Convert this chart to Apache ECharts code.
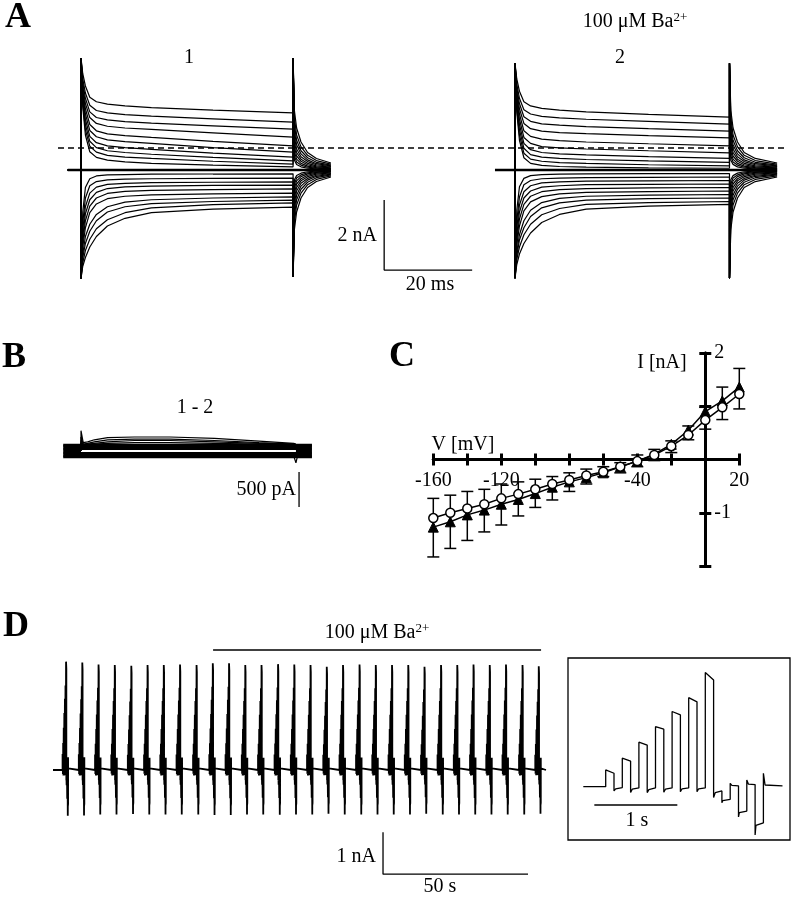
<!DOCTYPE html>
<html>
<head>
<meta charset="utf-8">
<script src="https://cdn.jsdelivr.net/npm/echarts@6/dist/echarts.min.js"></script>
<style>
  html, body { margin: 0; background: #fff; }
  #chart { width: 792px; height: 899px; }
</style>
</head>
<body>
<div id="chart"></div>
<script>
// ---- A: current families (ms, nA) ----
const stepTimes = [0, 0.4, 1, 2, 3.5, 6, 10, 16, 30, 48.2];
const ctlTailTimes = [48.5, 49, 50, 51.5, 53.5, 56.8];
const baTailTimes = [48.5, 49, 50, 51.5, 54, 58.9];

const ctlUpper = [
  [3.2, 2.75, 2.4, 2.08, 1.95, 1.88, 1.83, 1.78, 1.71, 1.63],
  [3.2, 2.6, 2.2, 1.85, 1.7, 1.63, 1.58, 1.54, 1.46, 1.37],
  [3.2, 2.5, 2.05, 1.66, 1.5, 1.43, 1.38, 1.34, 1.26, 1.17],
  [3.2, 2.4, 1.9, 1.5, 1.33, 1.25, 1.2, 1.16, 1.06, 0.94],
  [3.2, 2.3, 1.75, 1.3, 1.12, 1.03, 0.98, 0.93, 0.82, 0.69],
  [3.2, 2.2, 1.6, 1.13, 0.95, 0.86, 0.81, 0.76, 0.64, 0.51],
  [3.2, 2.1, 1.45, 0.96, 0.78, 0.69, 0.64, 0.59, 0.48, 0.37],
  [3.2, 2.0, 1.3, 0.82, 0.64, 0.55, 0.5, 0.45, 0.36, 0.26],
  [3.2, 1.9, 1.15, 0.68, 0.51, 0.42, 0.37, 0.33, 0.25, 0.17],
  [3.2, 1.8, 1.0, 0.52, 0.36, 0.28, 0.23, 0.19, 0.14, 0.09]
];
const ctlLower = [
  [-3.1, -1.2, -0.5, -0.25, -0.17, -0.14, -0.13, -0.12, -0.115, -0.11],
  [-3.1, -1.5, -0.8, -0.45, -0.33, -0.28, -0.26, -0.25, -0.24, -0.23],
  [-3.1, -1.7, -1.05, -0.66, -0.49, -0.41, -0.38, -0.36, -0.35, -0.34],
  [-3.1, -1.9, -1.25, -0.85, -0.64, -0.53, -0.48, -0.46, -0.44, -0.43],
  [-3.1, -2.05, -1.45, -1.03, -0.8, -0.67, -0.61, -0.58, -0.56, -0.54],
  [-3.1, -2.2, -1.65, -1.22, -0.97, -0.82, -0.75, -0.71, -0.68, -0.66],
  [-3.1, -2.4, -1.9, -1.55, -1.27, -1.05, -0.92, -0.85, -0.8, -0.77],
  [-3.1, -2.5, -2.1, -1.75, -1.45, -1.2, -1.05, -0.96, -0.9, -0.86],
  [-3.1, -2.65, -2.3, -1.98, -1.68, -1.42, -1.22, -1.08, -0.99, -0.94],
  [-3.1, -2.75, -2.5, -2.2, -1.9, -1.6, -1.38, -1.22, -1.12, -1.06]
];
const baUpper = [
  [3.05, 2.6, 2.25, 1.95, 1.83, 1.76, 1.71, 1.66, 1.59, 1.51],
  [3.05, 2.45, 2.05, 1.72, 1.6, 1.53, 1.49, 1.45, 1.39, 1.31],
  [3.05, 2.35, 1.9, 1.52, 1.39, 1.32, 1.28, 1.24, 1.18, 1.11],
  [3.05, 2.25, 1.75, 1.33, 1.18, 1.11, 1.07, 1.04, 0.98, 0.92],
  [3.05, 2.15, 1.6, 1.12, 0.96, 0.88, 0.84, 0.8, 0.75, 0.69],
  [3.05, 2.05, 1.45, 0.93, 0.76, 0.67, 0.63, 0.6, 0.55, 0.49],
  [3.05, 1.95, 1.3, 0.76, 0.58, 0.5, 0.46, 0.43, 0.38, 0.33],
  [3.05, 1.85, 1.15, 0.62, 0.44, 0.37, 0.33, 0.3, 0.26, 0.22],
  [3.05, 1.75, 1.0, 0.48, 0.31, 0.25, 0.21, 0.19, 0.15, 0.12],
  [3.05, 1.65, 0.85, 0.35, 0.19, 0.13, 0.1, 0.08, 0.06, 0.05]
];
const baLower = [
  [-3.09, -1.15, -0.48, -0.24, -0.16, -0.13, -0.12, -0.11, -0.105, -0.1],
  [-3.09, -1.45, -0.77, -0.42, -0.3, -0.25, -0.23, -0.22, -0.21, -0.2],
  [-3.09, -1.65, -1.0, -0.62, -0.45, -0.37, -0.34, -0.32, -0.31, -0.3],
  [-3.09, -1.85, -1.2, -0.8, -0.6, -0.49, -0.45, -0.42, -0.41, -0.4],
  [-3.09, -2.0, -1.4, -0.98, -0.75, -0.62, -0.56, -0.53, -0.51, -0.5],
  [-3.09, -2.15, -1.6, -1.17, -0.91, -0.76, -0.68, -0.64, -0.62, -0.6],
  [-3.09, -2.35, -1.85, -1.45, -1.15, -0.93, -0.81, -0.75, -0.72, -0.7],
  [-3.09, -2.45, -2.0, -1.65, -1.33, -1.08, -0.94, -0.86, -0.82, -0.8],
  [-3.09, -2.55, -2.2, -1.85, -1.55, -1.28, -1.1, -0.98, -0.93, -0.9],
  [-3.09, -2.7, -2.4, -2.1, -1.8, -1.5, -1.27, -1.12, -1.03, -0.98]
];
// tail currents after the step
const tailUpper = [
  [1.7, 1.2, 0.8, 0.5, 0.33, 0.2],
  [1.5, 1.0, 0.66, 0.42, 0.27, 0.17],
  [1.3, 0.85, 0.55, 0.35, 0.22, 0.14],
  [1.12, 0.72, 0.46, 0.29, 0.18, 0.12],
  [0.95, 0.6, 0.38, 0.24, 0.15, 0.1],
  [0.8, 0.5, 0.31, 0.19, 0.12, 0.08],
  [0.66, 0.4, 0.25, 0.15, 0.09, 0.06],
  [0.52, 0.31, 0.19, 0.11, 0.07, 0.04],
  [0.4, 0.23, 0.14, 0.08, 0.05, 0.03],
  [0.28, 0.16, 0.09, 0.05, 0.03, 0.02]
];
const tailLower = [
  [-0.28, -0.16, -0.09, -0.05, -0.03, -0.02],
  [-0.4, -0.23, -0.14, -0.08, -0.05, -0.03],
  [-0.52, -0.31, -0.19, -0.11, -0.07, -0.04],
  [-0.66, -0.4, -0.25, -0.15, -0.09, -0.06],
  [-0.8, -0.5, -0.31, -0.19, -0.12, -0.08],
  [-0.95, -0.6, -0.38, -0.24, -0.15, -0.1],
  [-1.12, -0.72, -0.46, -0.29, -0.18, -0.12],
  [-1.3, -0.85, -0.55, -0.35, -0.22, -0.14],
  [-1.5, -1.0, -0.66, -0.42, -0.27, -0.17],
  [-1.7, -1.2, -0.8, -0.5, -0.33, -0.2]
];
const ctlEndSpike = [3.2, -3.06];
const baEndSpike = [3.05, -3.09];
const ctlHoldStart = -3;
const baHoldStart = -4.5;

// ---- B: difference 1 - 2 (ms, nA) ----
const diffTimes = [0, 0.5, 1.5, 3, 6, 12, 20, 30, 40, 47.8, 48.3];
const diffUpper = [
  [0.29, 0.12, 0.13, 0.16, 0.19, 0.2, 0.2, 0.18, 0.14, 0.11, 0.1],
  [0.2, 0.1, 0.11, 0.13, 0.16, 0.17, 0.17, 0.15, 0.12, 0.1, 0.09],
  [0.15, 0.09, 0.1, 0.11, 0.13, 0.15, 0.15, 0.13, 0.11, 0.1, 0.09],
  [0.12, 0.09, 0.09, 0.1, 0.11, 0.12, 0.12, 0.11, 0.1, 0.09, 0.09]
];
const diffBandLevels = [0.09, 0.07, 0.05, 0.03, -0.03, -0.05, -0.07, -0.09];
const diffEndSpike = [[47.9, -0.09], [48.3, -0.17], [48.7, -0.06]];
const diffHoldStart = -4;
const diffHoldEnd = 51.9;

// ---- C: I-V relation (mV, nA) ----
const ivV = [-160, -150, -140, -130, -120, -110, -100, -90, -80, -70, -60, -50, -40, -30, -20, -10, 0, 10, 20];
const ivControl = [-1.27, -1.17, -1.04, -0.95, -0.84, -0.75, -0.64, -0.52, -0.42, -0.34, -0.25, -0.135, -0.03, 0.10, 0.285, 0.55, 0.90, 1.10, 1.36];
const ivBarium = [-1.10, -1.0, -0.92, -0.84, -0.73, -0.65, -0.56, -0.46, -0.385, -0.30, -0.23, -0.135, -0.03, 0.085, 0.25, 0.46, 0.74, 0.98, 1.23];
const errTop = [-0.73, -0.67, -0.60, -0.56, -0.46, -0.42, -0.37, -0.32, -0.25, -0.18, -0.135, -0.06, 0.085, 0.19, 0.35, 0.63, 0.98, 1.36, 1.71];
const errBottom = [-1.83, -1.67, -1.52, -1.36, -1.23, -1.06, -0.90, -0.76, -0.60, -0.46, -0.32, -0.25, -0.135, -0.02, 0.13, 0.37, 0.57, 0.75, 0.95];
const xLabelsShown = [-160, -120, -40, 20];
const yLabelsShown = [2, -1];

// ---- D: stimulus protocol (inset, s, nA) and long recording ----
const insetTrace = [
  [-0.27, 0], [0, 0], [0, 0.40], [0.01, 0.38], [0.1, 0.32], [0.1, -0.1], [0.12, -0.05], [0.2, -0.02],
  [0.2, 0.68], [0.21, 0.66], [0.3, 0.61], [0.3, -0.14], [0.32, -0.06], [0.4, -0.03],
  [0.4, 1.06], [0.41, 1.03], [0.5, 0.99], [0.5, -0.14], [0.52, -0.07], [0.6, -0.03],
  [0.6, 1.43], [0.61, 1.40], [0.7, 1.37], [0.7, -0.13], [0.72, -0.06], [0.8, -0.03],
  [0.8, 1.79], [0.81, 1.76], [0.9, 1.71], [0.9, -0.12], [0.92, -0.05], [1.0, -0.03],
  [1.0, 2.12], [1.01, 2.09], [1.1, 2.02], [1.1, -0.12], [1.12, -0.05], [1.2, -0.03],
  [1.2, 2.72], [1.21, 2.68], [1.3, 2.54], [1.3, -0.26], [1.32, -0.14], [1.4, -0.1],
  [1.4, -0.38], [1.41, -0.33], [1.5, -0.3], [1.5, 0.08], [1.52, 0.03], [1.6, 0.02],
  [1.6, -0.72], [1.61, -0.62], [1.7, -0.58], [1.7, 0.16], [1.72, 0.06], [1.8, 0.05],
  [1.8, -1.15], [1.81, -0.92], [1.9, -0.86], [1.9, 0.32], [1.92, 0.04], [2.13, 0.02]
];
const eventStart = [3.3, 8.9, 14.5, 20.1, 25.8, 31.4, 37.0, 42.6, 48.3, 53.9, 59.5, 65.1, 70.7, 76.4, 82.0,
  87.6, 93.2, 98.8, 104.5, 110.1, 115.7, 121.3, 126.9, 132.6, 138.2, 143.8, 149.4, 155.0, 160.7, 166.3];
const eventPeak = [2.58, 2.56, 2.51, 2.50, 2.48, 2.50, 2.50, 2.51, 2.50, 2.54, 2.54, 2.50, 2.50, 2.52, 2.51,
  2.50, 2.46, 2.50, 2.51, 2.50, 2.50, 2.50, 2.46, 2.50, 2.50, 2.51, 2.50, 2.51, 2.50, 2.47];
const recordEnd = 170;
const bariumOn = [55.2, 168.3];

// ---- build ----
const SERIF = '"Liberation Serif", "Times New Roman", serif';
const INK = '#000';

function stepTrace(vals, endSpike, tail, tailTimes, holdStart) {
  const d = [[holdStart, 0], [0, 0]];
  stepTimes.forEach((t, i) => d.push([t, vals[i]]));
  d.push([stepTimes[stepTimes.length - 1], endSpike]);
  tailTimes.forEach((t, i) => d.push([t, tail[i]]));
  return d;
}

function line(idx, data, width, extra) {
  return Object.assign({
    type: 'line', xAxisIndex: idx, yAxisIndex: idx, data: data,
    symbol: 'none', silent: true, animation: false,
    lineStyle: { color: INK, width: width }
  }, extra || {});
}

const series = [];

// A1 control, A2 barium
[[0, ctlUpper, ctlLower, ctlEndSpike, ctlTailTimes, ctlHoldStart],
 [1, baUpper, baLower, baEndSpike, baTailTimes, baHoldStart]].forEach(([g, up, lo, sp, tt, hs]) => {
  up.forEach((v, i) => series.push(line(g, stepTrace(v, sp[0], tailUpper[i], tt, hs), 1.2)));
  lo.forEach((v, i) => series.push(line(g, stepTrace(v, sp[1], tailLower[i], tt, hs), 1.2)));
  series.push(line(g, [[hs, 0], [tt[tt.length - 1], 0]], 2.6));
});
// A scale bar: 2 nA, 20 ms
series.push(line(0, [[68.9, -0.86], [68.9, -2.86], [88.9, -2.86]], 1.3));

// B
diffBandLevels.forEach(l => series.push(line(2, [[diffHoldStart, l], [diffHoldEnd, l]], 2)));
series.push(line(2, [[diffHoldStart, 0], [0, 0]], 3));
series.push(line(2, [[48.3, 0], [diffHoldEnd, 0]], 3));
diffUpper.forEach(v => {
  const d = [[0, 0]];
  diffTimes.forEach((t, i) => d.push([t, v[i]]));
  series.push(line(2, d, 1.2));
});
series.push(line(2, diffEndSpike, 1.2));
// B scale bar: 500 pA
series.push(line(2, [[49, -0.3], [49, -0.8]], 1.3));

// C
series.push({
  type: 'custom', xAxisIndex: 3, yAxisIndex: 3, silent: true, animation: false, z: 2,
  data: ivV.map((v, i) => [v, errBottom[i], errTop[i]]),
  encode: { x: 0, y: [1, 2] },
  renderItem: function (params, api) {
    const lo = api.coord([api.value(0), api.value(1)]);
    const hi = api.coord([api.value(0), api.value(2)]);
    const st = { stroke: INK, lineWidth: 1.5 };
    return {
      type: 'group', children: [
        { type: 'line', shape: { x1: lo[0], y1: lo[1], x2: hi[0], y2: hi[1] }, style: st },
        { type: 'line', shape: { x1: lo[0] - 6, y1: lo[1], x2: lo[0] + 6, y2: lo[1] }, style: st },
        { type: 'line', shape: { x1: hi[0] - 6, y1: hi[1], x2: hi[0] + 6, y2: hi[1] }, style: st }
      ]
    };
  }
});
series.push({
  type: 'line', xAxisIndex: 3, yAxisIndex: 3, silent: true, animation: false, z: 3,
  data: ivV.map((v, i) => [v, ivControl[i]]),
  symbol: 'triangle', symbolSize: 10,
  itemStyle: { color: INK, borderColor: INK },
  lineStyle: { color: INK, width: 1.5 }
});
series.push({
  type: 'line', xAxisIndex: 3, yAxisIndex: 3, silent: true, animation: false, z: 4,
  data: ivV.map((v, i) => [v, ivBarium[i]]),
  symbol: 'circle', symbolSize: 9,
  itemStyle: { color: '#fff', borderColor: INK, borderWidth: 1.5 },
  lineStyle: { color: INK, width: 1.5 }
});

// D long recording built from the protocol
const insetPeak = Math.max(...insetTrace.map(p => p[1]));
const dData = [[0, 0]];
eventStart.forEach((s, k) => {
  const g = eventPeak[k] / insetPeak;
  insetTrace.forEach(([t, v]) => { if (t >= 0 && t <= 1.95) dData.push([s + t, v * g]); });
});
dData.push([recordEnd, 0]);
series.push(line(5, dData, 1.8));
series.push(line(5, [[bariumOn[0], 2.86], [bariumOn[1], 2.86]], 1.5));
series.push(line(5, [[113.8, -1.48], [113.8, -2.48], [163.8, -2.48]], 1.3));

// inset
series.push(line(6, insetTrace, 1.3));
series.push(line(6, [[-0.137, -0.436], [0.863, -0.436]], 1.3));

// ---- axes ----
// I-V grid geometry; the axes are shifted onto the zero lines with offsets
const ivGrid = { left: 433.3, top: 353, width: 306, height: 213 };
const ivZeroX = ivGrid.left + ivGrid.width * 160 / 180;
const ivZeroY = ivGrid.top + ivGrid.height / 2;

function hiddenAxis(g, min, max) {
  return { gridIndex: g, type: 'value', min: min, max: max, show: false };
}
const ivAxisLine = { onZero: false, lineStyle: { color: INK, width: 3 } };
const ivTick = { show: true, length: 6, lineStyle: { color: INK, width: 3 } };
const ivLabel = { color: INK, fontSize: 20, fontFamily: SERIF };

const xAxis = [
  hiddenAxis(0, -5, 90),
  hiddenAxis(1, -5, 60),
  hiddenAxis(2, -5, 60),
  { gridIndex: 3, type: 'value', min: -160, max: 20, interval: 20, position: 'bottom',
    offset: -(ivGrid.top + ivGrid.height - ivZeroY),
    axisLine: ivAxisLine, axisTick: ivTick, splitLine: { show: false },
    axisLabel: Object.assign({ margin: 11, showMinLabel: true, showMaxLabel: true,
      formatter: v => xLabelsShown.includes(v) ? String(v) : '' }, ivLabel) },
  { gridIndex: 3, type: 'value', min: -160, max: 20, interval: 20, position: 'top',
    offset: -(ivZeroY - ivGrid.top),
    axisLine: ivAxisLine, axisTick: ivTick, splitLine: { show: false }, axisLabel: { show: false } },
  hiddenAxis(4, 0, recordEnd),
  hiddenAxis(5, -0.35, 2.25)
];
const yAxis = [
  hiddenAxis(0, -3.5, 3.5),
  hiddenAxis(1, -3.5, 3.5),
  hiddenAxis(2, -1, 0.8),
  { gridIndex: 3, type: 'value', min: -2, max: 2, interval: 1, position: 'left',
    offset: -(ivZeroX - ivGrid.left),
    axisLine: ivAxisLine, axisTick: ivTick, splitLine: { show: false }, axisLabel: { show: false } },
  { gridIndex: 3, type: 'value', min: -2, max: 2, interval: 1, position: 'right',
    offset: -(ivGrid.left + ivGrid.width - ivZeroX),
    axisLine: ivAxisLine, axisTick: ivTick, splitLine: { show: false },
    axisLabel: Object.assign({ margin: 9, showMinLabel: true, showMaxLabel: true,
      formatter: v => yLabelsShown.includes(v) ? String(v) : '' }, ivLabel) },
  hiddenAxis(4, -2.6, 3),
  hiddenAxis(5, -1.6, 2.9)
];

const grid = [
  { left: 59, top: 47.5, width: 418, height: 245 },
  { left: 492.75, top: 47.5, width: 289.25, height: 245 },
  { left: 58.75, top: 395, width: 289.25, height: 126 },
  ivGrid,
  { left: 53, top: 644, width: 493, height: 235.2 },
  { left: 576.65, top: 664.9, width: 215.8, height: 189 }
].map(g => Object.assign({ show: false, containLabel: false, outerBoundsMode: 'none' }, g));

// ---- annotations ----
function label(text, x, y, size, bold, align) {
  return {
    type: 'text', x: x, y: y, silent: true,
    style: {
      text: text, fill: INK, font: (bold ? 'bold ' : '') + size + 'px ' + SERIF,
      align: align, verticalAlign: 'middle', textAlign: align, textVerticalAlign: 'middle'
    }
  };
}
function bariumLabel(x, y) {
  return {
    type: 'text', x: x, y: y, silent: true,
    style: {
      text: '{n|100 μM Ba}{s|2+}', fill: INK,
      align: 'center', verticalAlign: 'middle', textAlign: 'center', textVerticalAlign: 'middle',
      rich: {
        n: { fontSize: 20, fontFamily: SERIF, fill: INK, lineHeight: 22 },
        s: { fontSize: 13, fontFamily: SERIF, fill: INK, verticalAlign: 'top', lineHeight: 14 }
      }
    }
  };
}

const graphic = [
  label('A', 18, 18, 36, true, 'center'),
  label('1', 189, 58, 20, false, 'center'),
  label('2', 620, 58, 20, false, 'center'),
  bariumLabel(635, 22),
  label('2 nA', 377, 236, 20, false, 'right'),
  label('20 ms', 430, 285, 20, false, 'center'),
  label('B', 14, 358, 36, true, 'center'),
  label('1 - 2', 195, 408, 20, false, 'center'),
  label('500 pA', 296, 490, 20, false, 'right'),
  label('C', 402, 357, 36, true, 'center'),
  label('V [mV]', 463, 445, 20, false, 'center'),
  label('I [nA]', 662, 363, 20, false, 'center'),
  label('D', 16, 627, 36, true, 'center'),
  bariumLabel(377, 633),
  label('1 nA', 376, 857, 20, false, 'right'),
  label('50 s', 440, 887, 20, false, 'center'),
  label('1 s', 637, 821, 20, false, 'center'),
  { type: 'line', silent: true, shape: { x1: 58, y1: 148, x2: 787, y2: 148 },
    style: { stroke: INK, lineWidth: 1.3, lineDash: [6, 4] } },
  { type: 'rect', silent: true, shape: { x: 568, y: 658, width: 222, height: 182 },
    style: { fill: 'none', stroke: INK, lineWidth: 1.3 } }
];

const chart = echarts.init(document.getElementById('chart'), null, { renderer: 'canvas' });
chart.setOption({
  backgroundColor: '#fff',
  animation: false,
  grid: grid,
  xAxis: xAxis,
  yAxis: yAxis,
  series: series,
  graphic: graphic
});
</script>
</body>
</html>
